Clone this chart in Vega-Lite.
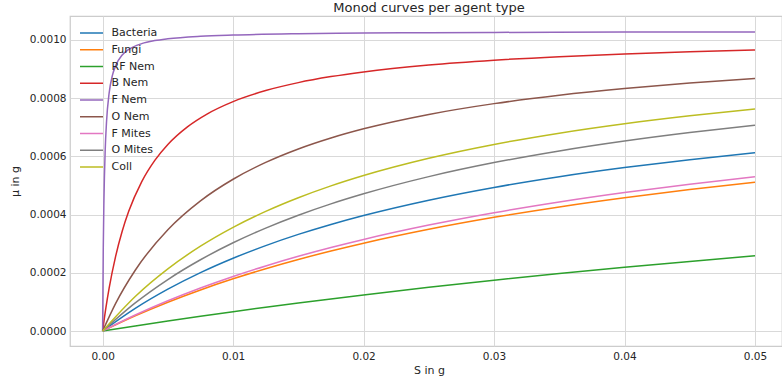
{
  "$schema": "https://vega.github.io/schema/vega-lite/v6.json",
  "width": 712,
  "height": 330,
  "autosize": {"type": "none"},
  "padding": {"left": 70, "top": 16, "right": 0, "bottom": 39},
  "background": "white",
  "title": {
    "text": "Monod curves per agent type",
    "fontSize": 13,
    "font": "DejaVu Sans",
    "fontWeight": "normal",
    "color": "#262626",
    "anchor": "middle",
    "frame": "group",
    "dx": 3,
    "dy": 12.5,
    "baseline": "alphabetic",
    "offset": 4
  },
  "config": {
    "font": "DejaVu Sans",
    "view": {"stroke": "#cccccc", "strokeWidth": 1.25},
    "title": {"color": "#262626"},
    "axis": {
      "domain": false,
      "ticks": false,
      "tickSize": 0,
      "grid": true,
      "gridColor": "#d9d9d9",
      "gridWidth": 1,
      "labelFont": "DejaVu Sans",
      "labelFontSize": 10.5,
      "labelColor": "#262626",
      "titleFont": "DejaVu Sans",
      "titleFontSize": 11,
      "titleFontWeight": "normal",
      "titleColor": "#262626"
    },
    "legend": {
      "labelFont": "DejaVu Sans",
      "labelFontSize": 11,
      "labelColor": "#262626"
    }
  },
  "data": {
    "values": [
      {"agent": "Bacteria", "S": 0, "mu": 0},
      {"agent": "Bacteria", "S": 0.0025, "mu": 0.0000777},
      {"agent": "Bacteria", "S": 0.005, "mu": 0.0001437},
      {"agent": "Bacteria", "S": 0.0075, "mu": 0.0002006},
      {"agent": "Bacteria", "S": 0.01, "mu": 0.00025},
      {"agent": "Bacteria", "S": 0.0125, "mu": 0.0002934},
      {"agent": "Bacteria", "S": 0.015, "mu": 0.0003318},
      {"agent": "Bacteria", "S": 0.0175, "mu": 0.000366},
      {"agent": "Bacteria", "S": 0.02, "mu": 0.0003967},
      {"agent": "Bacteria", "S": 0.025, "mu": 0.0004494},
      {"agent": "Bacteria", "S": 0.03, "mu": 0.0004932},
      {"agent": "Bacteria", "S": 0.035, "mu": 0.00053},
      {"agent": "Bacteria", "S": 0.04, "mu": 0.0005614},
      {"agent": "Bacteria", "S": 0.045, "mu": 0.0005886},
      {"agent": "Bacteria", "S": 0.05, "mu": 0.0006122},

      {"agent": "Fungi", "S": 0, "mu": 0},
      {"agent": "Fungi", "S": 0.0025, "mu": 0.0000522},
      {"agent": "Fungi", "S": 0.005, "mu": 0.000099},
      {"agent": "Fungi", "S": 0.0075, "mu": 0.0001411},
      {"agent": "Fungi", "S": 0.01, "mu": 0.0001792},
      {"agent": "Fungi", "S": 0.0125, "mu": 0.000214},
      {"agent": "Fungi", "S": 0.015, "mu": 0.0002457},
      {"agent": "Fungi", "S": 0.0175, "mu": 0.0002748},
      {"agent": "Fungi", "S": 0.02, "mu": 0.0003016},
      {"agent": "Fungi", "S": 0.025, "mu": 0.0003493},
      {"agent": "Fungi", "S": 0.03, "mu": 0.0003904},
      {"agent": "Fungi", "S": 0.035, "mu": 0.0004263},
      {"agent": "Fungi", "S": 0.04, "mu": 0.0004578},
      {"agent": "Fungi", "S": 0.045, "mu": 0.0004858},
      {"agent": "Fungi", "S": 0.05, "mu": 0.0005108},

      {"agent": "RF Nem", "S": 0, "mu": 0},
      {"agent": "RF Nem", "S": 0.0025, "mu": 0.0000175},
      {"agent": "RF Nem", "S": 0.005, "mu": 0.0000344},
      {"agent": "RF Nem", "S": 0.0075, "mu": 0.0000507},
      {"agent": "RF Nem", "S": 0.01, "mu": 0.0000664},
      {"agent": "RF Nem", "S": 0.0125, "mu": 0.0000816},
      {"agent": "RF Nem", "S": 0.015, "mu": 0.0000962},
      {"agent": "RF Nem", "S": 0.0175, "mu": 0.0001103},
      {"agent": "RF Nem", "S": 0.02, "mu": 0.000124},
      {"agent": "RF Nem", "S": 0.025, "mu": 0.00015},
      {"agent": "RF Nem", "S": 0.03, "mu": 0.0001744},
      {"agent": "RF Nem", "S": 0.035, "mu": 0.0001973},
      {"agent": "RF Nem", "S": 0.04, "mu": 0.0002188},
      {"agent": "RF Nem", "S": 0.045, "mu": 0.0002391},
      {"agent": "RF Nem", "S": 0.05, "mu": 0.0002583},

      {"agent": "B Nem", "S": 0, "mu": 0},
      {"agent": "B Nem", "S": 0.00025, "mu": 0.0000793},
      {"agent": "B Nem", "S": 0.0005, "mu": 0.0001471},
      {"agent": "B Nem", "S": 0.001, "mu": 0.0002572},
      {"agent": "B Nem", "S": 0.0015, "mu": 0.0003427},
      {"agent": "B Nem", "S": 0.002, "mu": 0.000411},
      {"agent": "B Nem", "S": 0.003, "mu": 0.0005133},
      {"agent": "B Nem", "S": 0.004, "mu": 0.0005863},
      {"agent": "B Nem", "S": 0.005, "mu": 0.000641},
      {"agent": "B Nem", "S": 0.0065, "mu": 0.0007014},
      {"agent": "B Nem", "S": 0.008, "mu": 0.0007453},
      {"agent": "B Nem", "S": 0.01, "mu": 0.000788},
      {"agent": "B Nem", "S": 0.0125, "mu": 0.0008258},
      {"agent": "B Nem", "S": 0.015, "mu": 0.0008532},
      {"agent": "B Nem", "S": 0.0175, "mu": 0.0008738},
      {"agent": "B Nem", "S": 0.02, "mu": 0.00089},
      {"agent": "B Nem", "S": 0.025, "mu": 0.0009137},
      {"agent": "B Nem", "S": 0.03, "mu": 0.0009302},
      {"agent": "B Nem", "S": 0.035, "mu": 0.0009423},
      {"agent": "B Nem", "S": 0.04, "mu": 0.0009516},
      {"agent": "B Nem", "S": 0.045, "mu": 0.000959},
      {"agent": "B Nem", "S": 0.05, "mu": 0.000965},

      {"agent": "F Nem", "S": 0, "mu": 0},
      {"agent": "F Nem", "S": 0.00005, "mu": 0.0002861},
      {"agent": "F Nem", "S": 0.0001, "mu": 0.0004478},
      {"agent": "F Nem", "S": 0.0002, "mu": 0.0006242},
      {"agent": "F Nem", "S": 0.0003, "mu": 0.0007186},
      {"agent": "F Nem", "S": 0.0005, "mu": 0.0008175},
      {"agent": "F Nem", "S": 0.00075, "mu": 0.0008778},
      {"agent": "F Nem", "S": 0.001, "mu": 0.0009115},
      {"agent": "F Nem", "S": 0.0015, "mu": 0.0009479},
      {"agent": "F Nem", "S": 0.002, "mu": 0.0009671},
      {"agent": "F Nem", "S": 0.003, "mu": 0.0009872},
      {"agent": "F Nem", "S": 0.004, "mu": 0.0009976},
      {"agent": "F Nem", "S": 0.005, "mu": 0.0010039},
      {"agent": "F Nem", "S": 0.0075, "mu": 0.0010125},
      {"agent": "F Nem", "S": 0.01, "mu": 0.0010168},
      {"agent": "F Nem", "S": 0.015, "mu": 0.0010212},
      {"agent": "F Nem", "S": 0.02, "mu": 0.0010233},
      {"agent": "F Nem", "S": 0.025, "mu": 0.0010247},
      {"agent": "F Nem", "S": 0.03, "mu": 0.0010256},
      {"agent": "F Nem", "S": 0.04, "mu": 0.0010267},
      {"agent": "F Nem", "S": 0.05, "mu": 0.0010273},

      {"agent": "O Nem", "S": 0, "mu": 0},
      {"agent": "O Nem", "S": 0.001, "mu": 0.000095},
      {"agent": "O Nem", "S": 0.0025, "mu": 0.0002088},
      {"agent": "O Nem", "S": 0.005, "mu": 0.0003478},
      {"agent": "O Nem", "S": 0.0075, "mu": 0.000447},
      {"agent": "O Nem", "S": 0.01, "mu": 0.0005213},
      {"agent": "O Nem", "S": 0.0125, "mu": 0.0005791},
      {"agent": "O Nem", "S": 0.015, "mu": 0.0006253},
      {"agent": "O Nem", "S": 0.0175, "mu": 0.000663},
      {"agent": "O Nem", "S": 0.02, "mu": 0.0006945},
      {"agent": "O Nem", "S": 0.025, "mu": 0.0007439},
      {"agent": "O Nem", "S": 0.03, "mu": 0.000781},
      {"agent": "O Nem", "S": 0.035, "mu": 0.0008098},
      {"agent": "O Nem", "S": 0.04, "mu": 0.0008328},
      {"agent": "O Nem", "S": 0.045, "mu": 0.0008517},
      {"agent": "O Nem", "S": 0.05, "mu": 0.0008674},

      {"agent": "F Mites", "S": 0, "mu": 0},
      {"agent": "F Mites", "S": 0.0025, "mu": 0.0000548},
      {"agent": "F Mites", "S": 0.005, "mu": 0.0001037},
      {"agent": "F Mites", "S": 0.0075, "mu": 0.0001477},
      {"agent": "F Mites", "S": 0.01, "mu": 0.0001875},
      {"agent": "F Mites", "S": 0.0125, "mu": 0.0002236},
      {"agent": "F Mites", "S": 0.015, "mu": 0.0002566},
      {"agent": "F Mites", "S": 0.0175, "mu": 0.0002868},
      {"agent": "F Mites", "S": 0.02, "mu": 0.0003145},
      {"agent": "F Mites", "S": 0.025, "mu": 0.0003638},
      {"agent": "F Mites", "S": 0.03, "mu": 0.0004063},
      {"agent": "F Mites", "S": 0.035, "mu": 0.0004432},
      {"agent": "F Mites", "S": 0.04, "mu": 0.0004756},
      {"agent": "F Mites", "S": 0.045, "mu": 0.0005043},
      {"agent": "F Mites", "S": 0.05, "mu": 0.0005299},

      {"agent": "O Mites", "S": 0, "mu": 0},
      {"agent": "O Mites", "S": 0.0025, "mu": 0.0000964},
      {"agent": "O Mites", "S": 0.005, "mu": 0.0001768},
      {"agent": "O Mites", "S": 0.0075, "mu": 0.0002447},
      {"agent": "O Mites", "S": 0.01, "mu": 0.000303},
      {"agent": "O Mites", "S": 0.0125, "mu": 0.0003535},
      {"agent": "O Mites", "S": 0.015, "mu": 0.0003977},
      {"agent": "O Mites", "S": 0.0175, "mu": 0.0004367},
      {"agent": "O Mites", "S": 0.02, "mu": 0.0004713},
      {"agent": "O Mites", "S": 0.025, "mu": 0.0005303},
      {"agent": "O Mites", "S": 0.03, "mu": 0.0005785},
      {"agent": "O Mites", "S": 0.035, "mu": 0.0006186},
      {"agent": "O Mites", "S": 0.04, "mu": 0.0006526},
      {"agent": "O Mites", "S": 0.045, "mu": 0.0006818},
      {"agent": "O Mites", "S": 0.05, "mu": 0.000707},

      {"agent": "Coll", "S": 0, "mu": 0},
      {"agent": "Coll", "S": 0.0025, "mu": 0.0001187},
      {"agent": "Coll", "S": 0.005, "mu": 0.0002136},
      {"agent": "Coll", "S": 0.0075, "mu": 0.0002913},
      {"agent": "Coll", "S": 0.01, "mu": 0.000356},
      {"agent": "Coll", "S": 0.0125, "mu": 0.0004108},
      {"agent": "Coll", "S": 0.015, "mu": 0.0004577},
      {"agent": "Coll", "S": 0.0175, "mu": 0.0004984},
      {"agent": "Coll", "S": 0.02, "mu": 0.000534},
      {"agent": "Coll", "S": 0.025, "mu": 0.0005933},
      {"agent": "Coll", "S": 0.03, "mu": 0.0006408},
      {"agent": "Coll", "S": 0.035, "mu": 0.0006796},
      {"agent": "Coll", "S": 0.04, "mu": 0.000712},
      {"agent": "Coll", "S": 0.045, "mu": 0.0007394},
      {"agent": "Coll", "S": 0.05, "mu": 0.0007629}
    ]
  },
  "mark": {"type": "line", "strokeWidth": 1.5, "interpolate": "monotone", "clip": true},
  "encoding": {
    "x": {
      "field": "S",
      "type": "quantitative",
      "scale": {"domain": [-0.0025, 0.05207], "nice": false, "zero": false},
      "axis": {
        "title": "S in g",
        "values": [0, 0.01, 0.02, 0.03, 0.04, 0.05],
        "format": ".2f",
        "labelPadding": 5,
        "titleX": 359,
        "titleY": 27,
        "titleAlign": "center",
        "titleBaseline": "alphabetic"
      }
    },
    "y": {
      "field": "mu",
      "type": "quantitative",
      "scale": {"domain": [-0.0000515, 0.001082], "nice": false, "zero": false},
      "axis": {
        "title": "μ in g",
        "values": [0, 0.0002, 0.0004, 0.0006, 0.0008, 0.001],
        "format": ".4f",
        "labelPadding": 4,
        "titleX": -55,
        "titleBaseline": "middle"
      }
    },
    "color": {
      "field": "agent",
      "type": "nominal",
      "sort": ["Bacteria", "Fungi", "RF Nem", "B Nem", "F Nem", "O Nem", "F Mites", "O Mites", "Coll"],
      "scale": {
        "domain": ["Bacteria", "Fungi", "RF Nem", "B Nem", "F Nem", "O Nem", "F Mites", "O Mites", "Coll"],
        "range": ["#1f77b4", "#ff7f0e", "#2ca02c", "#d62728", "#9467bd", "#8c564b", "#e377c2", "#7f7f7f", "#bcbd22"]
      },
      "legend": {
        "title": null,
        "orient": "none",
        "legendX": 15,
        "legendY": 10.5,
        "padding": 0,
        "symbolType": "M-2,0L2,0",
        "symbolSize": 132,
        "symbolStrokeWidth": 1.5,
        "labelOffset": 13.5,
        "rowPadding": 4.75
      }
    }
  }
}
